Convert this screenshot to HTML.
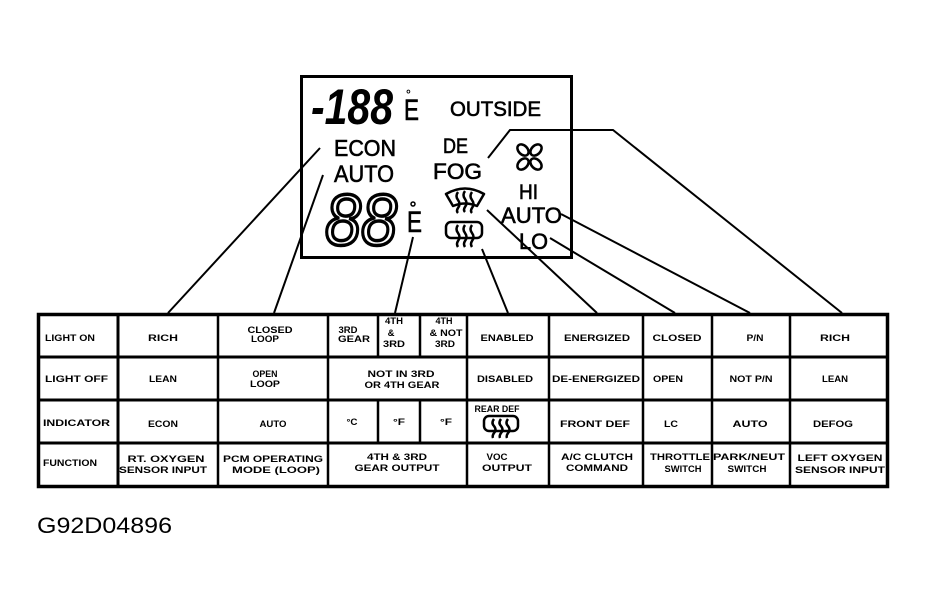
<!DOCTYPE html>
<html>
<head>
<meta charset="utf-8">
<style>
html,body{margin:0;padding:0;background:#fff;}
svg{display:block;}
.t{font-family:"Liberation Sans",sans-serif;font-weight:bold;font-size:9.5px;fill:#000;}
.d{font-family:"Liberation Sans",sans-serif;fill:#000;}
.s{stroke:#000;stroke-width:0.6;}
</style>
</head>
<body>
<svg width="928" height="610" viewBox="0 0 928 610" xmlns="http://www.w3.org/2000/svg">
<rect x="0" y="0" width="928" height="610" fill="#fff"/>

<!-- Display panel -->
<rect x="301.5" y="76.5" width="270" height="181" fill="none" stroke="#000" stroke-width="3"/>

<!-- -188 -->
<text class="d" x="311" y="124" font-size="50" font-weight="bold" font-style="italic" textLength="82" lengthAdjust="spacingAndGlyphs">-188</text>
<text class="d s" x="404" y="120" font-size="30" stroke-width="1.2" textLength="15" lengthAdjust="spacingAndGlyphs">E</text>
<text class="d" x="406" y="98" font-size="12" font-weight="bold">°</text>
<text class="d s" x="450" y="116" font-size="21" textLength="91" lengthAdjust="spacingAndGlyphs">OUTSIDE</text>

<text class="d s" x="334" y="156" font-size="23" textLength="62" lengthAdjust="spacingAndGlyphs">ECON</text>
<text class="d s" x="334" y="182" font-size="24" textLength="60" lengthAdjust="spacingAndGlyphs">AUTO</text>

<!-- 88 hollow -->
<text class="d" x="325" y="245" font-size="72" font-style="italic" stroke="#000" stroke-width="3.5" textLength="72" lengthAdjust="spacingAndGlyphs" style="fill:#fff">88</text>
<text class="d s" x="407" y="232" font-size="30" stroke-width="1.2" textLength="15" lengthAdjust="spacingAndGlyphs">E</text>
<circle cx="413" cy="204" r="2" fill="none" stroke="#000" stroke-width="1.5"/>

<text class="d s" x="443" y="153" font-size="21" textLength="25" lengthAdjust="spacingAndGlyphs">DE</text>
<text class="d s" x="433" y="179" font-size="22" textLength="49" lengthAdjust="spacingAndGlyphs">FOG</text>

<!-- fan icon -->
<g fill="none" stroke="#000" stroke-width="2.5">
<ellipse cx="523" cy="150" rx="6.5" ry="4.5" transform="rotate(45 523 150)"/>
<ellipse cx="536" cy="150" rx="6.5" ry="4.5" transform="rotate(-45 536 150)"/>
<ellipse cx="523" cy="164" rx="6.5" ry="4.5" transform="rotate(-45 523 164)"/>
<ellipse cx="536" cy="164" rx="6.5" ry="4.5" transform="rotate(45 536 164)"/>
</g>

<text class="d s" x="519" y="199" font-size="21" textLength="19" lengthAdjust="spacingAndGlyphs">HI</text>
<text class="d s" x="501" y="223" font-size="22" textLength="61" lengthAdjust="spacingAndGlyphs">AUTO</text>
<text class="d s" x="519" y="249" font-size="22" textLength="29" lengthAdjust="spacingAndGlyphs">LO</text>

<!-- windshield defrost icon -->
<g fill="none" stroke="#000" stroke-width="2.5" stroke-linejoin="round">
<path d="M446 194 Q465 183 484 194 L477 206 Q465 201 453 206 Z"/>
<path d="M458 192 q-3 4 0 8 q3 4 0 8 q-2 3 0 5"/>
<path d="M465 191 q-3 4 0 8 q3 4 0 8 q-2 3 0 5"/>
<path d="M472 192 q-3 4 0 8 q3 4 0 8 q-2 3 0 5"/>
</g>
<!-- rear defrost icon -->
<g fill="none" stroke="#000" stroke-width="2.5" stroke-linejoin="round">
<rect x="446" y="222" width="36" height="16" rx="5"/>
<path d="M458 225 q-3 4 0 8 q3 4 0 8 q-2 3 0 6"/>
<path d="M465 225 q-3 4 0 8 q3 4 0 8 q-2 3 0 6"/>
<path d="M472 225 q-3 4 0 8 q3 4 0 8 q-2 3 0 6"/>
</g>

<!-- leader lines -->
<g fill="none" stroke="#000" stroke-width="2">
<line x1="320" y1="148" x2="168" y2="313"/>
<line x1="323" y1="175" x2="274" y2="313"/>
<line x1="413" y1="237" x2="395" y2="313"/>
<line x1="482" y1="249" x2="508" y2="313"/>
<line x1="487" y1="210" x2="597" y2="313"/>
<line x1="561" y1="214" x2="750" y2="313"/>
<line x1="550" y1="238" x2="675" y2="313"/>
<polyline points="488,158 510,130 613,130 842,313"/>
</g>

<!-- table grid -->
<g stroke="#000" fill="none">
<rect x="38.5" y="314.5" width="849" height="172" stroke-width="3.5"/>
<line x1="38" y1="357" x2="888" y2="357" stroke-width="3"/>
<line x1="38" y1="400" x2="888" y2="400" stroke-width="3"/>
<line x1="38" y1="443" x2="888" y2="443" stroke-width="3"/>
<line x1="118" y1="314" x2="118" y2="487" stroke-width="3"/>
<line x1="218" y1="314" x2="218" y2="487" stroke-width="2.5"/>
<line x1="328" y1="314" x2="328" y2="487" stroke-width="2.5"/>
<line x1="467" y1="314" x2="467" y2="487" stroke-width="2.5"/>
<line x1="549" y1="314" x2="549" y2="487" stroke-width="2.5"/>
<line x1="643" y1="314" x2="643" y2="487" stroke-width="2.5"/>
<line x1="712" y1="314" x2="712" y2="487" stroke-width="2.5"/>
<line x1="790" y1="314" x2="790" y2="487" stroke-width="2.5"/>
<line x1="378" y1="314" x2="378" y2="357" stroke-width="2.5"/>
<line x1="420" y1="314" x2="420" y2="357" stroke-width="2.5"/>
<line x1="378" y1="400" x2="378" y2="443" stroke-width="2.5"/>
<line x1="420" y1="400" x2="420" y2="443" stroke-width="2.5"/>
</g>

<!-- row 1 -->
<text class="t" x="45" y="341" textLength="50" lengthAdjust="spacingAndGlyphs">LIGHT ON</text>
<text class="t" x="163" y="341" text-anchor="middle" textLength="30" lengthAdjust="spacingAndGlyphs">RICH</text>
<text class="t" x="270" y="333" text-anchor="middle" textLength="45" lengthAdjust="spacingAndGlyphs">CLOSED</text>
<text class="t" x="265" y="342" text-anchor="middle" textLength="28" lengthAdjust="spacingAndGlyphs">LOOP</text>
<text class="t" x="348" y="333" text-anchor="middle" textLength="19" lengthAdjust="spacingAndGlyphs">3RD</text>
<text class="t" x="354" y="342" text-anchor="middle" textLength="32" lengthAdjust="spacingAndGlyphs">GEAR</text>
<text class="t" x="394" y="324" text-anchor="middle" textLength="18" lengthAdjust="spacingAndGlyphs">4TH</text>
<text class="t" x="391" y="336" text-anchor="middle">&amp;</text>
<text class="t" x="394" y="347" text-anchor="middle" textLength="22" lengthAdjust="spacingAndGlyphs">3RD</text>
<text class="t" x="444" y="324" text-anchor="middle" textLength="17" lengthAdjust="spacingAndGlyphs">4TH</text>
<text class="t" x="446" y="336" text-anchor="middle" textLength="33" lengthAdjust="spacingAndGlyphs">&amp; NOT</text>
<text class="t" x="445" y="347" text-anchor="middle" textLength="20" lengthAdjust="spacingAndGlyphs">3RD</text>
<text class="t" x="507" y="341" text-anchor="middle" textLength="53" lengthAdjust="spacingAndGlyphs">ENABLED</text>
<text class="t" x="597" y="341" text-anchor="middle" textLength="66" lengthAdjust="spacingAndGlyphs">ENERGIZED</text>
<text class="t" x="677" y="341" text-anchor="middle" textLength="49" lengthAdjust="spacingAndGlyphs">CLOSED</text>
<text class="t" x="755" y="341" text-anchor="middle" textLength="17" lengthAdjust="spacingAndGlyphs">P/N</text>
<text class="t" x="835" y="341" text-anchor="middle" textLength="30" lengthAdjust="spacingAndGlyphs">RICH</text>

<!-- row 2 -->
<text class="t" x="45" y="382" textLength="63" lengthAdjust="spacingAndGlyphs">LIGHT OFF</text>
<text class="t" x="163" y="382" text-anchor="middle" textLength="28" lengthAdjust="spacingAndGlyphs">LEAN</text>
<text class="t" x="265" y="377" text-anchor="middle" textLength="25" lengthAdjust="spacingAndGlyphs">OPEN</text>
<text class="t" x="265" y="387" text-anchor="middle" textLength="30" lengthAdjust="spacingAndGlyphs">LOOP</text>
<text class="t" x="401" y="377" text-anchor="middle" textLength="67" lengthAdjust="spacingAndGlyphs">NOT IN 3RD</text>
<text class="t" x="402" y="388" text-anchor="middle" textLength="75" lengthAdjust="spacingAndGlyphs">OR 4TH GEAR</text>
<text class="t" x="505" y="382" text-anchor="middle" textLength="56" lengthAdjust="spacingAndGlyphs">DISABLED</text>
<text class="t" x="596" y="382" text-anchor="middle" textLength="88" lengthAdjust="spacingAndGlyphs">DE-ENERGIZED</text>
<text class="t" x="668" y="382" text-anchor="middle" textLength="30" lengthAdjust="spacingAndGlyphs">OPEN</text>
<text class="t" x="751" y="382" text-anchor="middle" textLength="43" lengthAdjust="spacingAndGlyphs">NOT P/N</text>
<text class="t" x="835" y="382" text-anchor="middle" textLength="26" lengthAdjust="spacingAndGlyphs">LEAN</text>

<!-- row 3 -->
<text class="t" x="43" y="426" textLength="67" lengthAdjust="spacingAndGlyphs">INDICATOR</text>
<text class="t" x="163" y="427" text-anchor="middle" textLength="30" lengthAdjust="spacingAndGlyphs">ECON</text>
<text class="t" x="273" y="427" text-anchor="middle" textLength="27" lengthAdjust="spacingAndGlyphs">AUTO</text>
<text class="t" x="352" y="425" text-anchor="middle" textLength="11" lengthAdjust="spacingAndGlyphs">°C</text>
<text class="t" x="399" y="425" text-anchor="middle" textLength="12" lengthAdjust="spacingAndGlyphs">°F</text>
<text class="t" x="446" y="425" text-anchor="middle" textLength="12" lengthAdjust="spacingAndGlyphs">°F</text>
<text class="t" x="497" y="412" text-anchor="middle" textLength="45" lengthAdjust="spacingAndGlyphs">REAR DEF</text>
<g fill="none" stroke="#000" stroke-width="2.5" stroke-linejoin="round">
<rect x="484" y="416" width="34" height="15" rx="5"/>
<path d="M494 419 q-3 4 0 7 q3 4 0 7 q-2 3 -1 5"/>
<path d="M501 419 q-3 4 0 7 q3 4 0 7 q-2 3 -1 5"/>
<path d="M508 419 q-3 4 0 7 q3 4 0 7 q-2 3 -1 5"/>
</g>
<text class="t" x="595" y="427" text-anchor="middle" textLength="70" lengthAdjust="spacingAndGlyphs">FRONT DEF</text>
<text class="t" x="671" y="427" text-anchor="middle" textLength="14" lengthAdjust="spacingAndGlyphs">LC</text>
<text class="t" x="750" y="427" text-anchor="middle" textLength="35" lengthAdjust="spacingAndGlyphs">AUTO</text>
<text class="t" x="833" y="427" text-anchor="middle" textLength="40" lengthAdjust="spacingAndGlyphs">DEFOG</text>

<!-- row 4 -->
<text class="t" x="43" y="466" textLength="54" lengthAdjust="spacingAndGlyphs">FUNCTION</text>
<text class="t" x="166" y="462" text-anchor="middle" textLength="77" lengthAdjust="spacingAndGlyphs">RT. OXYGEN</text>
<text class="t" x="163" y="473" text-anchor="middle" textLength="88" lengthAdjust="spacingAndGlyphs">SENSOR INPUT</text>
<text class="t" x="273" y="462" text-anchor="middle" textLength="100" lengthAdjust="spacingAndGlyphs">PCM OPERATING</text>
<text class="t" x="276" y="473" text-anchor="middle" textLength="88" lengthAdjust="spacingAndGlyphs">MODE (LOOP)</text>
<text class="t" x="397" y="460" text-anchor="middle" textLength="60" lengthAdjust="spacingAndGlyphs">4TH &amp; 3RD</text>
<text class="t" x="397" y="471" text-anchor="middle" textLength="85" lengthAdjust="spacingAndGlyphs">GEAR OUTPUT</text>
<text class="t" x="497" y="460" text-anchor="middle" textLength="21" lengthAdjust="spacingAndGlyphs">VOC</text>
<text class="t" x="507" y="471" text-anchor="middle" textLength="50" lengthAdjust="spacingAndGlyphs">OUTPUT</text>
<text class="t" x="597" y="460" text-anchor="middle" textLength="72" lengthAdjust="spacingAndGlyphs">A/C CLUTCH</text>
<text class="t" x="597" y="471" text-anchor="middle" textLength="62" lengthAdjust="spacingAndGlyphs">COMMAND</text>
<text class="t" x="680" y="460" text-anchor="middle" textLength="60" lengthAdjust="spacingAndGlyphs">THROTTLE</text>
<text class="t" x="683" y="472" text-anchor="middle" textLength="37" lengthAdjust="spacingAndGlyphs">SWITCH</text>
<text class="t" x="749" y="460" text-anchor="middle" textLength="72" lengthAdjust="spacingAndGlyphs">PARK/NEUT</text>
<text class="t" x="747" y="472" text-anchor="middle" textLength="39" lengthAdjust="spacingAndGlyphs">SWITCH</text>
<text class="t" x="840" y="461" text-anchor="middle" textLength="85" lengthAdjust="spacingAndGlyphs">LEFT OXYGEN</text>
<text class="t" x="840" y="473" text-anchor="middle" textLength="90" lengthAdjust="spacingAndGlyphs">SENSOR INPUT</text>

<!-- figure id -->
<text class="d" x="37" y="533" font-size="22" textLength="135" lengthAdjust="spacingAndGlyphs">G92D04896</text>
</svg>
</body>
</html>
